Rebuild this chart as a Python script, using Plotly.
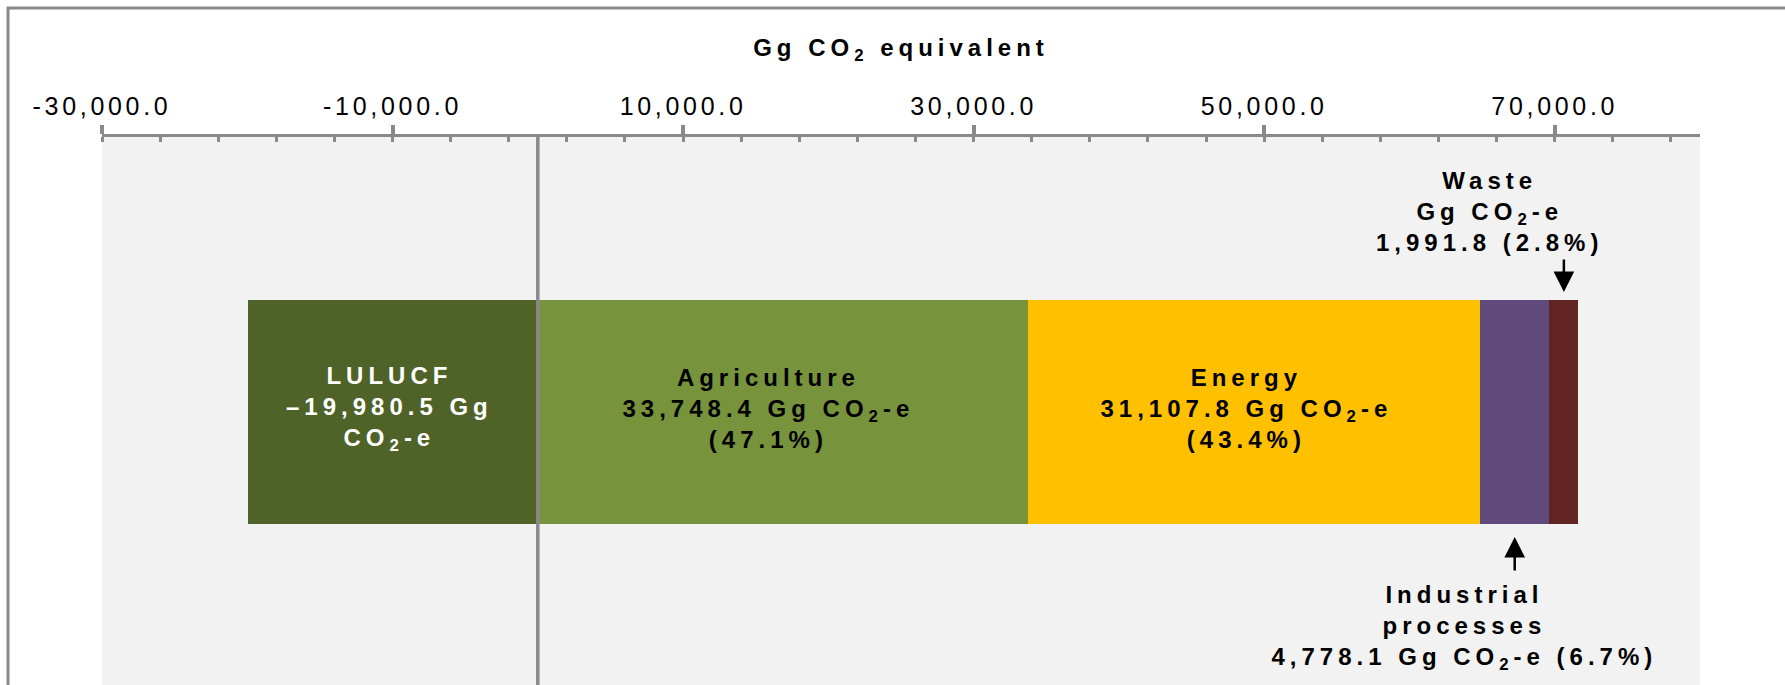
import plotly.graph_objects as go

# ---------------- data ----------------
CATEGORY = ["Net emissions"]
SECTORS = ["LULUCF", "Agriculture", "Energy", "Industrial processes", "Waste"]
VALUES = [-19980.5, 33748.4, 31107.8, 4778.1, 1991.8]          # Gg CO2-e
PERCENTS = [None, 47.1, 43.4, 6.7, 2.8]                         # share of gross emissions
TICK_VALUES = [-30000, -10000, 10000, 30000, 50000, 70000]
TICK_LABELS = ["-30,000.0", "-10,000.0", "10,000.0", "30,000.0", "50,000.0", "70,000.0"]
AXIS_RANGE = [-30000, 80000]
MINOR_STEP = 4000
AXIS_TITLE = "Gg CO<sub>2</sub> equivalent"

# ---------------- styles ----------------
COLORS = ["#4f6228", "#77933c", "#ffc000", "#604a7b", "#632523"]
TEXT_COLORS = ["#ffffff", "#000000", "#000000", "#000000", "#000000"]
LABEL_XSHIFT = [-3, -14.5, -7.5, -50, -74]
FONT = "Liberation Sans, Arial, sans-serif"
GRAY = "#898989"

CO2 = "CO<sub>2</sub>"


def fmt(v):
    s = f"{abs(v):,.1f}"
    return ("\u2013" + s) if v < 0 else s


labels = [
    f"{SECTORS[0]}<br>{fmt(VALUES[0])} Gg<br>{CO2}-e",
    f"{SECTORS[1]}<br>{fmt(VALUES[1])} Gg {CO2}-e<br>({PERCENTS[1]:.1f}%)",
    f"{SECTORS[2]}<br>{fmt(VALUES[2])} Gg {CO2}-e<br>({PERCENTS[2]:.1f}%)",
    f"Industrial<br>processes<br>{fmt(VALUES[3])} Gg {CO2}-e ({PERCENTS[3]:.1f}%)",
    f"{SECTORS[4]}<br>Gg {CO2}-e<br>{fmt(VALUES[4])} ({PERCENTS[4]:.1f}%)",
]

fig = go.Figure()
for name, val, col in zip(SECTORS, VALUES, COLORS):
    fig.add_trace(go.Bar(
        y=CATEGORY, x=[val], name=name, orientation="h",
        marker=dict(color=col, line=dict(width=0)),
        hoverinfo="skip",
    ))

# centres of the stacked segments (from the data, relative stacking)
centers = []
pos_base, neg_base = 0.0, 0.0
for v in VALUES:
    if v >= 0:
        centers.append(pos_base + v / 2)
        pos_base += v
    else:
        centers.append(neg_base + v / 2)
        neg_base += v


def font(c):
    return dict(family=FONT, size=24, color=c, weight="bold")


annotations = []
# labels inside the wide segments
for i in range(3):
    annotations.append(dict(
        x=centers[i], y=0, xref="x", yref="y", text=labels[i], showarrow=False,
        xanchor="center", yanchor="middle", xshift=LABEL_XSHIFT[i], yshift=4,
        font=font(TEXT_COLORS[i]), align="center"))

# Waste: arrow down + label above
annotations.append(dict(x=centers[4], y=0.5, xref="x", yref="y", text="", showarrow=True,
                        arrowhead=2, arrowsize=1.65, arrowwidth=2.5, arrowcolor="#000000",
                        ax=0, ay=-42, axref="pixel", ayref="pixel", standoff=8))
annotations.append(dict(x=centers[4], y=0.5, xref="x", yref="y", text=labels[4], showarrow=False,
                        xanchor="center", yanchor="middle", xshift=LABEL_XSHIFT[4], yshift=89,
                        font=font("#000000"), align="center"))
# Industrial processes: arrow up + label below
annotations.append(dict(x=centers[3], y=-0.5, xref="x", yref="y", text="", showarrow=True,
                        arrowhead=2, arrowsize=1.65, arrowwidth=2.5, arrowcolor="#000000",
                        ax=0, ay=48, axref="pixel", ayref="pixel", standoff=13))
annotations.append(dict(x=centers[3], y=-0.5, xref="x", yref="y", text=labels[3], showarrow=False,
                        xanchor="center", yanchor="middle", xshift=LABEL_XSHIFT[3], yshift=-104,
                        font=font("#000000"), align="center"))

shapes = [
    # zero line above bars
    dict(type="line", xref="x", yref="paper", x0=0, x1=0, y0=0, y1=1,
         line=dict(color=GRAY, width=3.5), layer="above"),
    # outer chart frame (partly cropped)
    dict(type="rect", xref="paper", yref="paper", x0=-0.0588, x1=1.2, y0=-0.2, y1=1.2354,
         line=dict(color=GRAY, width=3), fillcolor="rgba(0,0,0,0)", layer="above"),
]

fig.update_layout(
    width=1785, height=685, autosize=False,
    margin=dict(l=102, r=85, t=137, b=0, pad=0),
    paper_bgcolor="#ffffff", plot_bgcolor="#f2f2f2",
    barmode="relative", bargap=0, showlegend=False,
    annotations=annotations, shapes=shapes,
    font=dict(family=FONT, color="#000000"),
)
fig.update_xaxes(
    side="top", range=AXIS_RANGE, showgrid=False, zeroline=False,
    showline=True, linecolor=GRAY, linewidth=3,
    tickmode="array", tickvals=TICK_VALUES, ticktext=TICK_LABELS,
    ticks="outside", ticklen=9, tickwidth=4, tickcolor=GRAY,
    tickfont=dict(family=FONT, size=25, color="#000000"),
    minor=dict(tick0=AXIS_RANGE[0], dtick=MINOR_STEP, ticks="inside", ticklen=5,
               tickwidth=3, tickcolor=GRAY, showgrid=False),
    title=dict(text=AXIS_TITLE, font=dict(family=FONT, size=24, color="#000000", weight="bold"),
               standoff=29),
    fixedrange=True,
)
fig.update_yaxes(visible=False, range=[-1.219, 1.228], fixedrange=True)

post_js = """
document.body.style.margin='0';
document.body.style.overflow='hidden';
var gd=document.getElementById('{plot_id}');
gd.querySelectorAll('.xtick text').forEach(function(t){t.style.letterSpacing='3.7px';});
gd.querySelectorAll('.annotation-text, .xtitle').forEach(function(t){t.style.letterSpacing='5px';});
"""

fig.write_html("out.html", post_script=post_js, config={"displayModeBar": False})
